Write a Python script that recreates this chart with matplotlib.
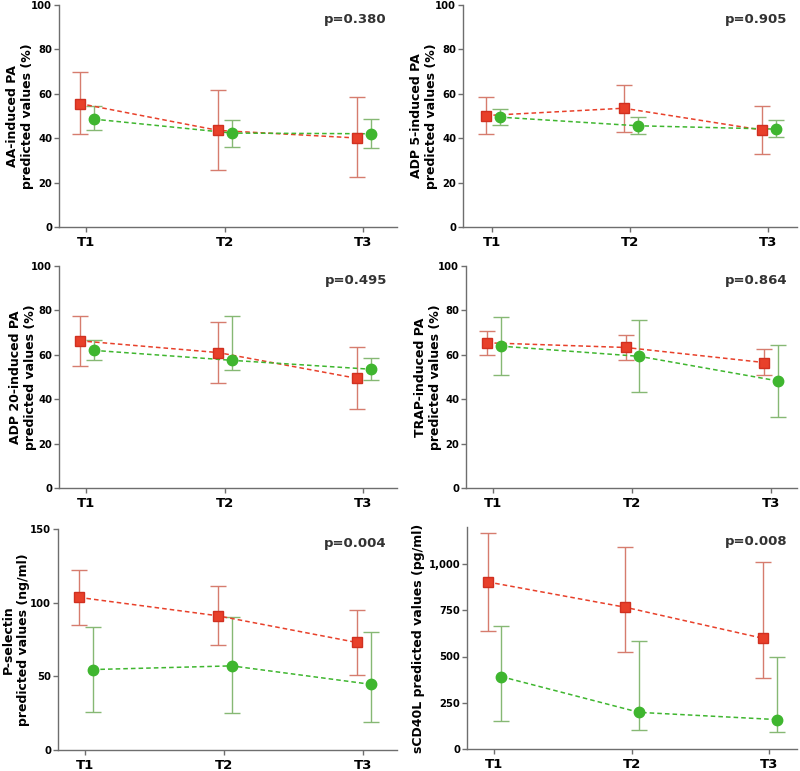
import matplotlib
matplotlib.use("Agg")
import matplotlib.pyplot as plt
import matplotlib.transforms as mtransforms
import numpy as np

timepoints = ["T1", "T2", "T3"]

ylabels = ["AA-induced PA\npredicted values (%)",
           "ADP 5-induced PA\npredicted values (%)",
           "ADP 20-induced PA\npredicted values (%)",
           "TRAP-induced PA\npredicted values (%)",
           "P-selectin\npredicted values (ng/ml)",
           "sCD40L predicted values (pg/ml)"]
pvalues = ["p=0.380", "p=0.905", "p=0.495", "p=0.864", "p=0.004", "p=0.008"]

# red series (squares): mean, upper, lower
red_mean = [[55.6, 43.5, 40.1], [50.2, 53.5, 43.7], [66.3, 61.0, 49.4],
            [65.4, 63.3, 56.5], [103.6, 91.1, 73.0], [903, 766, 598]]
red_hi = [[69.8, 61.6, 58.4], [58.4, 64.0, 54.5], [77.4, 75.0, 63.3],
          [70.5, 69.0, 62.5], [122.0, 111.3, 95.2], [1168, 1094, 1013]]
red_lo = [[41.7, 25.8, 22.5], [41.9, 42.9, 33.1], [55.1, 47.3, 35.7],
          [60.1, 57.8, 50.8], [85.0, 71.2, 50.8], [640, 526, 382]]

# green series (circles)
grn_mean = [[48.6, 42.3, 42.0], [49.5, 45.6, 44.1], [62.0, 57.5, 53.5],
            [63.9, 59.3, 48.2], [54.6, 57.1, 44.6], [391, 198, 159]]
grn_hi = [[54.5, 48.3, 48.6], [53.0, 49.4, 48.2], [66.6, 77.4, 58.7],
          [77.1, 75.6, 64.5], [83.2, 90.0, 80.2], [667, 584, 495]]
grn_lo = [[43.5, 36.0, 35.6], [46.0, 41.9, 40.4], [57.5, 53.0, 48.5],
          [51.0, 43.4, 32.2], [26.1, 25.2, 19.0], [153, 103, 90]]

yticks = [[0, 20, 40, 60, 80, 100]] * 4 + [[0, 50, 100, 150], [0, 250, 500, 750, 1000]]
ytick_labels = [[str(v) for v in t] for t in yticks]
ytick_labels[5] = ["0", "250", "500", "750", "1,000"]
ylims = [(0, 100)] * 4 + [(0, 150), (0, 1200)]

W, H = 800, 771
# axes boxes in pixels: left, right, top, bottom
boxes = [(59, 397, 5, 227), (463, 797, 5, 227),
         (59, 397, 266, 488), (466, 797, 266, 488),
         (58, 397, 529, 750), (467, 797, 527, 749)]
xlims = [(0.805, 3.245), (0.79, 3.21), (0.805, 3.245), (0.805, 3.19),
         (0.805, 3.245), (0.805, 3.2)]
label_right_px = [34, 438, 37, 442, 30, 425]

RED = "#e8402a"
RED_ERR = "#d67c6e"
GRN = "#3fb62f"
GRN_ERR = "#86b874"
AXC = "#6e6e6e"

fig = plt.figure(figsize=(W / 100, H / 100), dpi=100)
x = np.arange(1, 4)
roff, goff = 0.045, 0.055
for i in range(6):
    l, r, t, b = boxes[i]
    ax = fig.add_axes([l / W, 1 - b / H, (r - l) / W, (b - t) / H])
    rm = np.array(red_mean[i]); gm = np.array(grn_mean[i])
    rerr = [rm - np.array(red_lo[i]), np.array(red_hi[i]) - rm]
    gerr = [gm - np.array(grn_lo[i]), np.array(grn_hi[i]) - gm]
    ax.errorbar(x + goff, gm, yerr=gerr, fmt="none", ecolor=GRN_ERR, elinewidth=1.0,
                capsize=6, capthick=1.0, zorder=2)
    ax.errorbar(x - roff, rm, yerr=rerr, fmt="none", ecolor=RED_ERR, elinewidth=1.0,
                capsize=6, capthick=1.0, zorder=2)
    ax.plot(x - roff, rm, ls=(0, (3, 2)), color=RED, lw=1.1, zorder=3)
    ax.plot(x + goff, gm, ls=(0, (3, 2)), color=GRN, lw=1.1, zorder=3)
    ax.plot(x + goff, gm, "o", ms=7.5, color=GRN, mec=GRN, zorder=4, ls="none")
    ax.plot(x - roff, rm, "s", ms=7.5, color=RED, mec="#d03020", zorder=5, ls="none")
    ax.set_xlim(*xlims[i])
    ax.set_ylim(*ylims[i])
    ax.set_xticks(x)
    ax.set_xticklabels(timepoints, fontsize=9.5, fontweight="bold")
    ax.set_yticks(yticks[i])
    ax.set_yticklabels(ytick_labels[i], fontsize=7.2, fontweight="bold")
    for s in ["top", "right"]:
        ax.spines[s].set_visible(False)
    for s in ["left", "bottom"]:
        ax.spines[s].set_color(AXC)
        ax.spines[s].set_linewidth(1.0)
    ax.tick_params(axis="both", colors=AXC, length=3.5, width=1.0)
    ax.tick_params(axis="x", labelcolor="black", pad=3)
    ax.tick_params(axis="y", labelcolor="black", pad=1.5)
    ax.set_ylabel(ylabels[i], fontsize=9.0, fontweight="bold", linespacing=1.2)
    # place label so that its right edge sits at the measured pixel column
    trans = mtransforms.blended_transform_factory(fig.transFigure, ax.transAxes)
    ax.yaxis.set_label_coords(label_right_px[i] / W, 0.5, transform=trans)
    ax.text(0.97, 0.935, pvalues[i], transform=ax.transAxes, ha="right", va="center",
            fontsize=9.5, fontweight="bold", color="#333333")

fig.savefig("out.png", dpi=100)
